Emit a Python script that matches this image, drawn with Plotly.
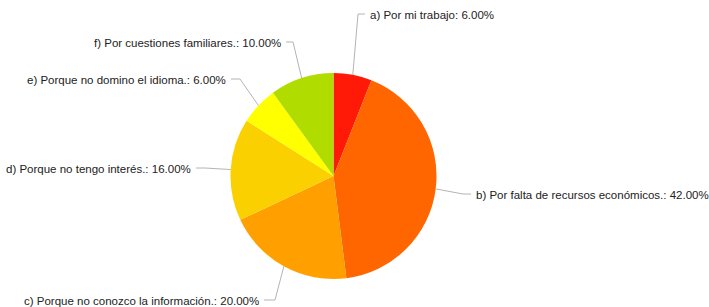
import math
import plotly.graph_objects as go

labels = ["a) Por mi trabajo", "b) Por falta de recursos económicos.", "c) Porque no conozco la información.",
          "d) Porque no tengo interés.", "e) Porque no domino el idioma.", "f) Por cuestiones familiares."]
values = [6.0, 42.0, 20.0, 16.0, 6.0, 10.0]
colors = ["#ff1a08", "#ff6600", "#ffa000", "#fbd000", "#ffff00", "#b0dc00"]

W, H = 709, 307
CX, CY, R = 333.5, 176.0, 103.0

# label layout: (elbow x, elbow y, stub end x, text anchor side)
label_layout = [
    (358, 14, 365, "left"),
    (463, 194, 471, "left"),
    (275, 300, 264, "right"),
    (205, 168, 196, "right"),
    (240, 79, 231, "right"),
    (293, 42, 286, "right"),
]

def px(x):
    return x / W

def py(y):
    return 1 - y / H

fig = go.Figure(go.Pie(
    labels=labels, values=values, sort=False, direction="clockwise", rotation=0,
    marker=dict(colors=colors, line=dict(width=0)),
    textinfo="none", hoverinfo="label+percent", showlegend=False,
    domain=dict(x=[px(CX - R), px(CX + R)], y=[py(CY + R), py(CY - R)]),
))

total = sum(values)
cum = 0.0
shapes, annotations = [], []
for lab, v, (ex, ey, sx, side) in zip(labels, values, label_layout):
    mid = (cum + v / 2) / total * 2 * math.pi
    cum += v
    ax = CX + R * math.sin(mid)
    ay = CY - R * math.cos(mid)
    path = f"M {px(ax)},{py(ay)} L {px(ex)},{py(ey)} L {px(sx)},{py(ey)}"
    shapes.append(dict(type="path", xref="paper", yref="paper", path=path,
                       line=dict(color="#b4b4b4", width=1)))
    annotations.append(dict(
        x=px(sx + (3 if side == "left" else -3)), y=py(ey + 1), xref="paper", yref="paper",
        text=f"{lab}: {v / total * 100:.2f}%", showarrow=False,
        xanchor=side, yanchor="middle",
        font=dict(family="Liberation Sans, Arial, sans-serif", size=11.5, color="#222222"),
    ))

fig.update_layout(
    width=W, height=H, margin=dict(l=0, r=0, t=0, b=0),
    paper_bgcolor="white", plot_bgcolor="white",
    shapes=shapes, annotations=annotations,
)

fig.write_html("out.html", config={"displayModeBar": False},
               post_script="document.body.style.margin='0';document.body.style.overflow='hidden';")
